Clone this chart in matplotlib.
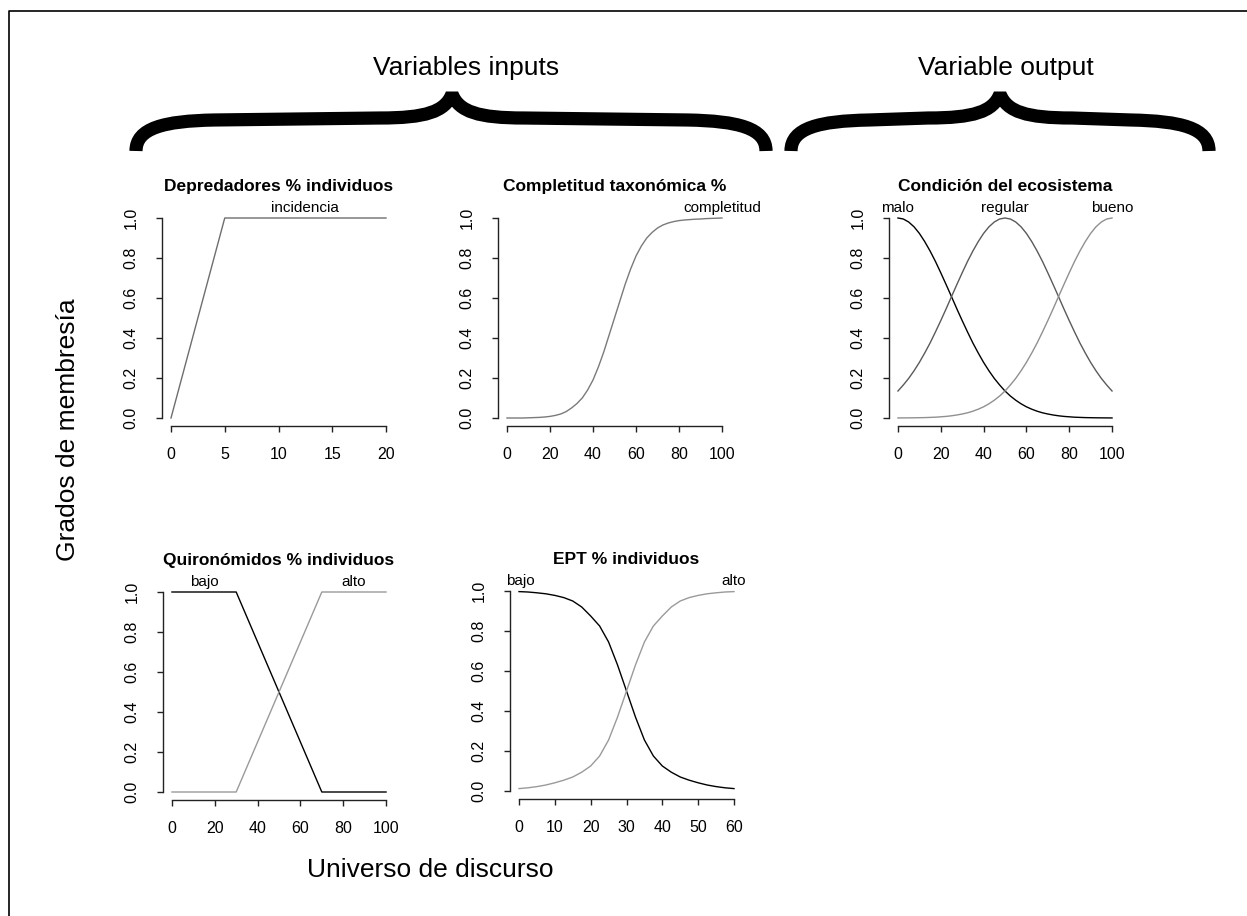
import matplotlib
matplotlib.use("Agg")
import matplotlib.pyplot as plt
from matplotlib.path import Path
from matplotlib.patches import PathPatch
from matplotlib.lines import Line2D

plt.rcParams['font.family'] = ['Liberation Sans', 'DejaVu Sans']

W, H = 1247, 916

# ---- data ----
# Depredadores % individuos
dep_x = [0, 5, 20]
dep_incidencia = [0.0, 1.0, 1.0]

# Completitud taxonomica %
comp_x = [0, 2.5, 5, 7.5, 10, 12.5, 15, 17.5, 20, 22.5, 25, 27.5, 30, 32.5, 35, 37.5, 40,
          42.5, 45, 47.5, 50, 52.5, 55, 57.5, 60, 62.5, 65, 67.5, 70, 72.5, 75, 77.5, 80,
          82.5, 85, 87.5, 90, 92.5, 95, 97.5, 100]
comp_completitud = [0.0, 0.0, 0.0, 0.0, 0.001, 0.002, 0.003, 0.005, 0.008, 0.013, 0.02,
                    0.032, 0.05, 0.072, 0.10, 0.14, 0.19, 0.255, 0.33, 0.415, 0.50, 0.585,
                    0.67, 0.745, 0.81, 0.86, 0.90, 0.928, 0.95, 0.965, 0.975, 0.982, 0.987,
                    0.99, 0.992, 0.994, 0.995, 0.997, 0.998, 0.999, 1.0]

# Condicion del ecosistema
cond_x = [0, 2.5, 5, 7.5, 10, 12.5, 15, 17.5, 20, 22.5, 25, 27.5, 30, 32.5, 35, 37.5, 40,
          42.5, 45, 47.5, 50, 52.5, 55, 57.5, 60, 62.5, 65, 67.5, 70, 72.5, 75, 77.5, 80,
          82.5, 85, 87.5, 90, 92.5, 95, 97.5, 100]
cond_malo = [1.0, 0.995, 0.98, 0.956, 0.923, 0.882, 0.835, 0.783, 0.726, 0.667, 0.607,
             0.546, 0.487, 0.43, 0.375, 0.325, 0.278, 0.236, 0.198, 0.165, 0.135,
             0.11, 0.089, 0.071, 0.056, 0.044, 0.034, 0.026, 0.02, 0.015, 0.011,
             0.008, 0.006, 0.004, 0.003, 0.002, 0.0015, 0.001, 0.0007, 0.0005, 0.0003]
cond_regular = [0.135, 0.165, 0.198, 0.236, 0.278, 0.325, 0.375, 0.43, 0.487, 0.546, 0.607,
                0.667, 0.726, 0.783, 0.835, 0.882, 0.923, 0.956, 0.98, 0.995, 1.0,
                0.995, 0.98, 0.956, 0.923, 0.882, 0.835, 0.783, 0.726, 0.667, 0.607,
                0.546, 0.487, 0.43, 0.375, 0.325, 0.278, 0.236, 0.198, 0.165, 0.135]
cond_bueno = [0.0003, 0.0005, 0.0007, 0.001, 0.0015, 0.002, 0.003, 0.004, 0.006, 0.008,
              0.011, 0.015, 0.02, 0.026, 0.034, 0.044, 0.056, 0.071, 0.089, 0.11, 0.135,
              0.165, 0.198, 0.236, 0.278, 0.325, 0.375, 0.43, 0.487, 0.546, 0.607,
              0.667, 0.726, 0.783, 0.835, 0.882, 0.923, 0.956, 0.98, 0.995, 1.0]

# Quironomidos % individuos
quir_x = [0, 30, 70, 100]
quir_bajo = [1.0, 1.0, 0.0, 0.0]
quir_alto = [0.0, 0.0, 1.0, 1.0]

# EPT % individuos
ept_x = [0, 2.5, 5, 7.5, 10, 12.5, 15, 17.5, 20, 22.5, 25, 27.5, 30,
         32.5, 35, 37.5, 40, 42.5, 45, 47.5, 50, 52.5, 55, 57.5, 60]
ept_alto = [0.012, 0.016, 0.022, 0.03, 0.041, 0.054, 0.07, 0.094, 0.125, 0.175, 0.255, 0.37, 0.50,
            0.63, 0.745, 0.825, 0.875, 0.92, 0.95, 0.967, 0.978, 0.986, 0.991, 0.995, 0.997]
ept_bajo = [0.997, 0.995, 0.991, 0.986, 0.978, 0.967, 0.95, 0.92, 0.875, 0.825, 0.745, 0.63, 0.50,
            0.37, 0.255, 0.175, 0.125, 0.094, 0.07, 0.054, 0.041, 0.03, 0.022, 0.016, 0.012]

fig = plt.figure(figsize=(W / 100, H / 100), dpi=100)


def px_axes(left, top, right, bottom):
    return fig.add_axes([left / W, 1 - bottom / H, (right - left) / W, (bottom - top) / H])


def r_style(ax, xmin, xmax, xticks, title):
    pad = 0.04 * (xmax - xmin)
    ax.set_xlim(xmin - pad, xmax + pad)
    ax.set_ylim(-0.04, 1.04)
    for s in ['top', 'right']:
        ax.spines[s].set_visible(False)
    for s in ['left', 'bottom']:
        ax.spines[s].set_color('#222222')
        ax.spines[s].set_linewidth(1.0)
    ax.spines['bottom'].set_bounds(xticks[0], xticks[-1])
    ax.spines['left'].set_bounds(0, 1)
    ax.set_xticks(xticks)
    ax.set_xticklabels([str(t) for t in xticks])
    yt = [0, 0.2, 0.4, 0.6, 0.8, 1.0]
    ax.set_yticks(yt)
    ax.set_yticklabels([f"{t:.1f}" for t in yt], rotation=90, va='center')
    ax.tick_params(axis='x', length=4.5, width=1.0, color='#222222', pad=10.5, labelsize=11.5)
    ax.tick_params(axis='y', length=4.5, width=1.0, color='#222222', pad=12.5, labelsize=11.5)
    ax.set_title(title, fontsize=12.5, fontweight='bold', pad=14)


def label(ax, x, txt):
    ax.annotate(txt, xy=(x, 1.0), xytext=(0, 7), textcoords='offset points',
                ha='center', va='center', fontsize=11, annotation_clip=False)


lw = 1.0

ax1 = px_axes(162.4, 210, 394.6, 426)
r_style(ax1, 0, 20, [0, 5, 10, 15, 20], 'Depredadores % individuos')
ax1.plot(dep_x, dep_incidencia, color='#6e6e6e', lw=lw)
label(ax1, 12.5, 'incidencia')

ax2 = px_axes(498.4, 210, 730.6, 426)
r_style(ax2, 0, 100, [0, 20, 40, 60, 80, 100], 'Completitud taxonómica %')
ax2.plot(comp_x, comp_completitud, color='#7a7a7a', lw=lw)
label(ax2, 100, 'completitud')

ax3 = px_axes(889.4, 210, 1120.6, 426)
r_style(ax3, 0, 100, [0, 20, 40, 60, 80, 100], 'Condición del ecosistema')
ax3.plot(cond_x, cond_malo, color='#000000', lw=lw)
ax3.plot(cond_x, cond_regular, color='#5a5a5a', lw=lw)
ax3.plot(cond_x, cond_bueno, color='#909090', lw=lw)
label(ax3, 0, 'malo')
label(ax3, 50, 'regular')
label(ax3, 100, 'bueno')

ax4 = px_axes(163.4, 584, 394.6, 800)
r_style(ax4, 0, 100, [0, 20, 40, 60, 80, 100], 'Quironómidos % individuos')
ax4.plot(quir_x, quir_bajo, color='#000000', lw=lw)
ax4.plot(quir_x, quir_alto, color='#9a9a9a', lw=lw)
label(ax4, 15, 'bajo')
label(ax4, 85, 'alto')

ax5 = px_axes(510.4, 583, 742.6, 799)
r_style(ax5, 0, 60, [0, 10, 20, 30, 40, 50, 60], 'EPT % individuos')
ax5.plot(ept_x, ept_bajo, color='#000000', lw=lw)
ax5.plot(ept_x, ept_alto, color='#9a9a9a', lw=lw)
label(ax5, 0.5, 'bajo')
label(ax5, 60, 'alto')


# ---- braces, drawn in pixel space ----
def fpt(x, y):
    return (x / W, 1 - y / H)


def brace(xl, xr, xt, ybot=151, ymid=120, ytip=94):
    left = [(xl, ybot), (xl, ymid + 8), (xl + 28, ymid + 1), (xl + 78, ymid),
            (xt - 72, ymid - 2),
            (xt - 27, ymid - 2), (xt - 7, ymid - 8), (xt, ytip)]
    right = [(xt + 7, ymid - 8), (xt + 27, ymid - 2), (xt + 72, ymid - 2),
             (xr - 78, ymid),
             (xr - 28, ymid + 1), (xr, ymid + 8), (xr, ybot)]
    verts = [fpt(*p) for p in left + right]
    codes = [Path.MOVETO, Path.CURVE4, Path.CURVE4, Path.CURVE4,
             Path.LINETO,
             Path.CURVE4, Path.CURVE4, Path.CURVE4,
             Path.CURVE4, Path.CURVE4, Path.CURVE4,
             Path.LINETO,
             Path.CURVE4, Path.CURVE4, Path.CURVE4]
    patch = PathPatch(Path(verts, codes), transform=fig.transFigure, fill=False,
                      edgecolor='black', lw=9.5, capstyle='butt', joinstyle='bevel')
    fig.add_artist(patch)


brace(136, 766, 452)
brace(791, 1209, 1000)

fig.text(466 / W, 1 - 68 / H, 'Variables inputs', ha='center', va='center', fontsize=19)
fig.text(1006 / W, 1 - 68 / H, 'Variable output', ha='center', va='center', fontsize=19)
fig.text(68 / W, 1 - 430 / H, 'Grados de membresía', ha='center', va='center',
         rotation=90, fontsize=19)
fig.text(430 / W, 1 - 870 / H, 'Universo de discurso', ha='center', va='center', fontsize=19)

# partial frame (left and top edges visible)
fig.add_artist(Line2D([9 / W, 9 / W, 1.0], [0.0, 1 - 11 / H, 1 - 11 / H],
                      transform=fig.transFigure, color='black', lw=1.2))

fig.savefig('out.png', dpi=100)
